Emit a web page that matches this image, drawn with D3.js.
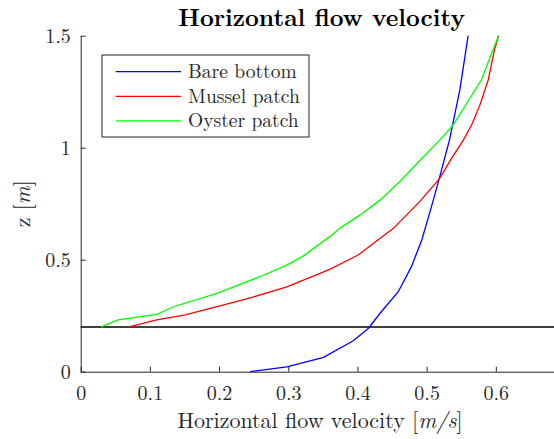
<!DOCTYPE html>
<html>
<head>
<meta charset="utf-8">
<script src="https://cdn.jsdelivr.net/npm/d3@7"></script>
<style>
  body { margin: 0; background: #fff; }
  svg { display: block; }
  svg text { font-family: "Latin Modern Roman", "Liberation Serif", serif; }
</style>
</head>
<body>
<svg id="chart" width="554" height="439"></svg>
<script>
// velocity profiles: [velocity m/s, z m]
const bareBottom = [
  [0.245, 0], [0.298, 0.022], [0.351, 0.064], [0.394, 0.138], [0.416, 0.194],
  [0.433, 0.262], [0.459, 0.357], [0.478, 0.469], [0.493, 0.588], [0.507, 0.737],
  [0.519, 0.871], [0.526, 0.952], [0.533, 1.034], [0.537, 1.094], [0.548, 1.258],
  [0.56, 1.5]
];
const musselPatch = [
  [0.07, 0.2], [0.11, 0.231], [0.151, 0.254], [0.24, 0.325], [0.298, 0.379],
  [0.36, 0.457], [0.401, 0.521], [0.452, 0.64], [0.49, 0.759], [0.519, 0.863],
  [0.536, 0.952], [0.553, 1.034], [0.565, 1.101], [0.577, 1.19], [0.589, 1.302],
  [0.598, 1.436], [0.604, 1.5]
];
const oysterPatch = [
  [0.03, 0.2], [0.054, 0.231], [0.11, 0.256], [0.134, 0.29], [0.197, 0.35],
  [0.259, 0.424], [0.298, 0.476], [0.322, 0.517], [0.36, 0.603], [0.375, 0.641],
  [0.404, 0.7], [0.433, 0.767], [0.461, 0.848], [0.493, 0.952], [0.519, 1.034],
  [0.538, 1.1], [0.579, 1.302], [0.604, 1.5]
];
const seriesNames = ['Bare bottom', 'Mussel patch', 'Oyster patch'];
const seriesColors = ['#0000ff', '#ff0000', '#00ff00'];
const xTicks = [0, 0.1, 0.2, 0.3, 0.4, 0.5, 0.6];
const yTicks = [0, 0.5, 1, 1.5];
const refLevel = 0.2;

const font = '"Latin Modern Roman", "Liberation Serif", serif';
const svg = d3.select('#chart');

// plot area runs past the right edge of the window, like the source figure
const x = d3.scaleLinear().domain([0, 0.7]).range([80.7, 565]);
const y = d3.scaleLinear().domain([0, 1.5]).range([371.7, 35.7]);

// axes with inward ticks
const xAxis = d3.axisBottom(x).tickValues(xTicks).tickSize(-5).tickSizeOuter(0)
  .tickPadding(14).tickFormat(d => d === 0 ? '0' : d3.format('.1f')(d));
const yAxis = d3.axisLeft(y).tickValues(yTicks).tickSize(-5).tickSizeOuter(0)
  .tickPadding(10).tickFormat(d => String(d));

const xg = svg.append('g').attr('transform', `translate(0,${y(0)})`).call(xAxis);
const yg = svg.append('g').attr('transform', `translate(${x(0)},0)`).call(yAxis);
[xg, yg].forEach(g => {
  g.attr('font-family', font);
  g.selectAll('path, line').attr('stroke', '#262626').attr('stroke-width', 1);
  g.selectAll('text').attr('fill', '#262626').style('font-size', '20px');
});
xg.selectAll('text').attr('dy', '0.71em');
yg.selectAll('text').attr('dy', '0.33em');

// reference line at z = 0.2
svg.append('line')
  .attr('x1', x(0)).attr('x2', x(0.7))
  .attr('y1', y(refLevel)).attr('y2', y(refLevel))
  .attr('stroke', '#000').attr('stroke-width', 1.5);

const line = d3.line().x(d => x(d[0])).y(d => y(d[1]));
[bareBottom, musselPatch, oysterPatch].forEach((data, i) => {
  svg.append('path')
    .datum(data)
    .attr('d', line)
    .attr('fill', 'none')
    .attr('stroke', seriesColors[i])
    .attr('stroke-width', 1.3);
});

// title
svg.append('text')
  .attr('x', 321.7).attr('y', 26)
  .attr('text-anchor', 'middle')
  .style('font-size', '24px').style('font-weight', 'bold')
  .text('Horizontal flow velocity');

// axis labels
const xl = svg.append('text')
  .attr('x', 320).attr('y', 428)
  .attr('text-anchor', 'middle')
  .style('font-size', '22px').attr('fill', '#262626');
xl.append('tspan').text('Horizontal flow velocity [');
xl.append('tspan').style('font-style', 'italic').text('m/s');
xl.append('tspan').text(']');

const yl = svg.append('text')
  .attr('transform', `translate(30,${(y(0) + y(1.5)) / 2}) rotate(-90)`)
  .attr('text-anchor', 'middle')
  .style('font-size', '22px').attr('fill', '#262626');
yl.append('tspan').text('z [');
yl.append('tspan').style('font-style', 'italic').text('m');
yl.append('tspan').text(']');

// legend
const legend = svg.append('g');
legend.append('rect')
  .attr('x', 102).attr('y', 55).attr('width', 207).attr('height', 82)
  .attr('fill', '#fff').attr('stroke', '#262626').attr('stroke-width', 1);
seriesNames.forEach((name, i) => {
  const ly = 71.7 + i * 24.6;
  legend.append('line')
    .attr('x1', 115.7).attr('x2', 181).attr('y1', ly).attr('y2', ly)
    .attr('stroke', seriesColors[i]).attr('stroke-width', 1.3);
  legend.append('text')
    .attr('x', 188).attr('y', ly).attr('dy', '0.33em')
    .style('font-size', '19.5px').attr('fill', '#262626')
    .text(name);
});
</script>
</body>
</html>
